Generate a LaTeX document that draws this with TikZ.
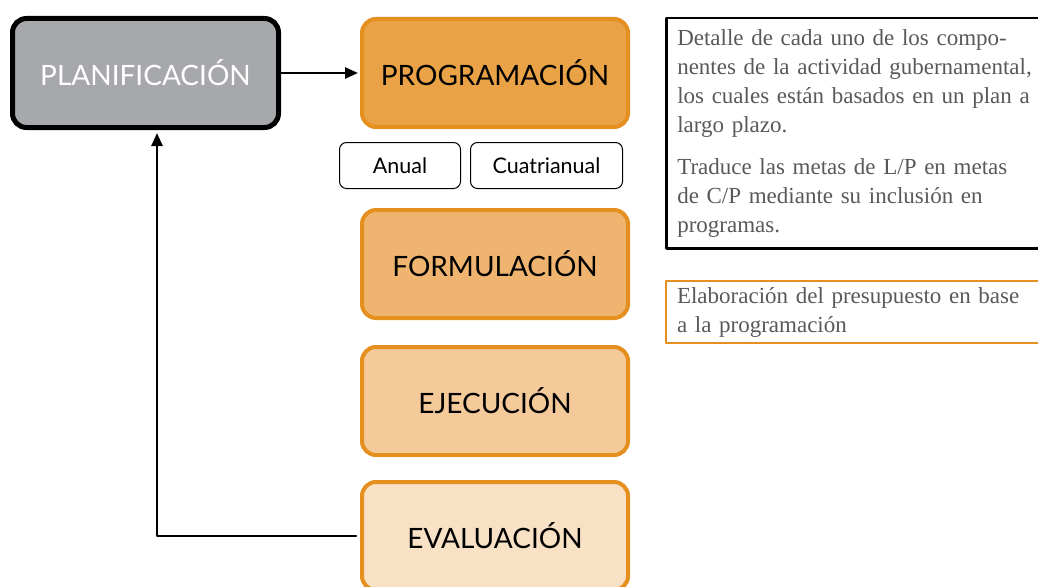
\documentclass[tikz,border=0pt]{standalone}
\usepackage{fontspec}
\setmainfont{Liberation Serif}
\newfontfamily\cajafont{Lato}
\usetikzlibrary{arrows.meta}
\definecolor{naranja}{HTML}{E58F1E}
\definecolor{gris}{HTML}{A7A8AB}
\definecolor{texto}{HTML}{58595B}
\definecolor{progfill}{HTML}{E9A246}
\definecolor{formfill}{HTML}{EFB570}
\definecolor{ejecfill}{HTML}{F4CA9A}
\definecolor{evalfill}{HTML}{F9E1C6}

\begin{document}
\begin{tikzpicture}[line cap=round,line join=round,>={Triangle[length=13pt,width=11pt]},x=1pt,y=-1pt,
	etapa/.style={draw=naranja,line width=4pt,rounded corners=14pt,minimum width=266pt,minimum height=108pt,inner sep=0pt,font=\cajafont\fontsize{28}{30}\selectfont},
	plazo/.style={draw=black,line width=1pt,rounded corners=7pt,minimum height=46pt,inner sep=0pt,font=\cajafont\fontsize{21.5}{26}\selectfont},
	nota/.style={anchor=north west,inner xsep=11pt,inner ysep=0pt,text width=370pt,align=left,text=texto,font=\fontsize{23}{29}\selectfont}]
	\clip (0,0) rectangle (1038,586);
	\node[etapa,draw=black,line width=5pt,fill=gris,text=white,minimum width=266pt,minimum height=109pt] (plan) at (145.5,73) {PLANIFICACIÓN};
	\node[etapa,fill=progfill] (prog) at (495,73) {PROGRAMACIÓN};
	\node[plazo,minimum width=121pt] (anual) at (400,165.5) {Anual};
	\node[plazo,minimum width=152pt] (cuatri) at (546.5,165.5) {Cuatrianual};
	\node[etapa,fill=formfill] (form) at (495,264) {FORMULACIÓN};
	\node[etapa,fill=ejecfill] (ejec) at (495,401) {EJECUCIÓN};
	\node[etapa,fill=evalfill] (eval) at (495,536) {EVALUACIÓN};
	% flechas
	\draw [->,line width=2.5pt] (plan) -- ([xshift=-2pt]prog.west);
	\draw [->,line width=2.5pt] ([xshift=-4pt]eval.west) -| ([xshift=11.5pt,yshift=-3pt]plan.south);
	% notas
	\node[nota,draw=black,line width=2.5pt,minimum height=230pt] (detalle) at (665,17) {Detalle de cada uno de los compo-\\nentes de la actividad gubernamental,\\los cuales están basados en un plan a\\largo plazo.\\[13pt]Traduce las metas de L/P en metas\\de C/P mediante su inclusión en\\programas.};
	\node[nota,draw=naranja,line width=2pt,minimum height=62pt] (elab) at (665,280) {Elaboración del presupuesto en base\\a la programación};
\end{tikzpicture}
\end{document}
